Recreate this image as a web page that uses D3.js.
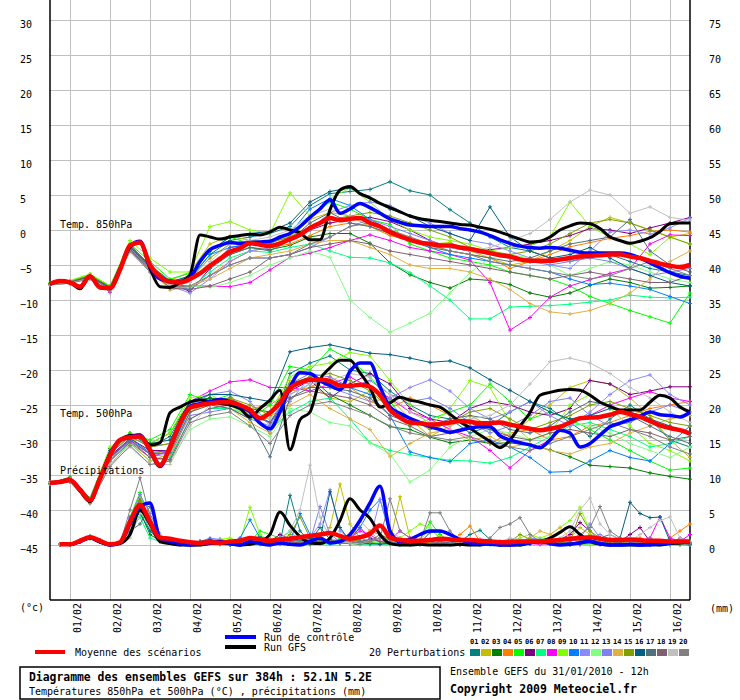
<!DOCTYPE html>
<html>
<head>
<meta charset="utf-8">
<script src="https://cdn.jsdelivr.net/npm/d3@7"></script>
<style>
  body { margin: 0; background: #fff; }
  svg text { font-family: "DejaVu Sans Mono", monospace; font-size: 10px; fill: #000; }
</style>
</head>
<body>
<div id="chart"></div>
<script>
// ---------- data ----------
const dayLabels = ["01/02","02/02","03/02","04/02","05/02","06/02","07/02","08/02",
                   "09/02","10/02","11/02","12/02","13/02","14/02","15/02","16/02"];
const dayHours = d3.range(12, 384, 24);
const leftTicks = d3.range(-45, 31, 5);
const rightTicks = d3.range(0, 76, 5);

const memberNames = ["01","02","03","04","05","06","07","08","09","10",
                     "11","12","13","14","15","16","17","18","19","20"];
const memberColors = ["#008080","#c0c000","#008000","#ff8000","#00ff00","#800080","#00ff80","#ff00ff","#80ff00","#0080ff",
                      "#8a8aff","#80ff80","#8080f0","#e0b040","#80a000","#006080","#507080","#806070","#c0c0c0","#808080"];

// T850 (6h steps)
const t850Mean = [-7.7,-7.3,-7.5,-8.1,-6.6,-8.2,-8.3,-5.7,-2.2,-1.8,
  -5,-6.7,-7.4,-7.5,-7,-6.2,-5.1,-4.1,-3.1,-2.6,
  -1.9,-2.1,-2.3,-1.9,-1.3,-0.7,0.3,1,1.7,1.4,
  1.6,1.7,1,0.5,-0.3,-0.9,-1.4,-1.8,-2,-2.2,
  -2.2,-2.5,-2.7,-3,-3.3,-3.6,-3.8,-4.2,-4.4,-4.4,
  -4.4,-4.2,-4,-3.8,-3.7,-3.6,-3.5,-3.5,-3.8,-4,
  -4.4,-4.8,-5.1,-5.3,-5];
const t850Control = [-7.7,-7.3,-7.5,-8.1,-6.6,-8.2,-8.3,-5.5,-2.3,-1.6,
  -5.2,-7.0,-7.3,-7.4,-6.8,-4.5,-2.8,-2.2,-1.8,-1.9,
  -1.8,-1.7,-1.6,-1.0,-0.5,0.5,1.8,3.0,4.3,2.4,
  3.0,3.8,3.2,2.4,1.6,1.1,0.7,0.6,0.5,0.5,
  0.5,0.2,0,-0.3,-0.8,-1.4,-1.9,-2.3,-2.5,-2.6,
  -2.5,-2.6,-2.9,-3.2,-3.3,-3.3,-3.3,-3.3,-3.5,-4.0,
  -4.7,-5.4,-6.1,-6.6,-6.9];
const t850Gfs = [-7.7,-7.3,-7.5,-8.4,-6.6,-8.2,-8.4,-5.6,-2.5,-1.8,
  -5.5,-8.1,-8.2,-7.5,-6.4,-0.7,-1.0,-1.3,-1.0,-0.8,
  -0.6,-0.7,-0.3,0.4,0,-0.4,-1.4,-1.4,2.9,5.7,
  6.2,5.2,4.6,3.8,3.2,2.6,2.0,1.6,1.4,1.2,
  1.0,0.8,0.7,0.4,0.1,-0.3,-0.8,-1.3,-1.7,-1.6,
  -1.0,0,0.6,1.0,0.9,0.2,-1.0,-1.5,-1.9,-1.6,
  -1.1,-0.2,0.9,1.0,1.0];
// T850 perturbations (12h steps)
const t850Members = [
  [-7.8,-7.4,-6.5,-8.2,-2.0,-5.3,-7.3,-6.8,-3.5,-1.5, -1.0,-0.5,0.5,3.5,5.2,5.5,5.8,6.9,5.6,5.0, 2.9,1.0,-1.0,-2.5,-3.0,-4.0,-4.5,-3.8,-3.5,-4.5, -5.5,-6.0,-6.5],
  [-7.6,-7.4,-6.4,-8.0,-2.4,-5.0,-7.2,-6.0,-2.0,-0.8, -1.5,-1.8,-1.0,1.5,2.5,2.0,0.5,-0.5,-1.5,-2.0, -1.8,-3.0,-4.0,-5.0,-4.5,-3.0,-1.5,0.5,1.8,1.0, 0.0,-1.0,-0.5],
  [-7.7,-7.5,-6.6,-8.3,-2.5,-5.2,-7.6,-7.2,-5.0,-3.5, -2.5,-2.8,-2.2,-1.0,-0.5,-0.5,-1.9,-4.7,-6.4,-7.5, -8.3,-7.0,-7.2,-7.8,-9.0,-9.6,-9.0,-7.9,-7.0,-7.5, -8.3,-8.2,-8.0],
  [-7.8,-7.6,-6.7,-8.4,-2.8,-5.5,-7.8,-8.5,-6.5,-4.5, -3.0,-2.5,-2.0,-0.8,0.5,1.0,0.5,-0.8,-1.5,-2.2, -3.0,-3.5,-4.0,-5.5,-4.5,-3.5,-2.4,-1.8,-1.2,-0.8, -0.2,0.0,-0.3],
  [-7.6,-7.3,-6.3,-8.0,-2.0,-4.5,-7.0,-6.2,-3.0,-1.0, -2.0,-2.5,-1.5,2.0,4.0,3.0,1.5,0.8,-2.0,-3.0, -4.0,-4.5,-5.0,-6.0,-6.5,-7.0,-8.0,-9.5,-10.5,-11.5, -12.4,-13.3,-9.0],
  [-7.7,-7.5,-6.6,-8.2,-2.3,-5.0,-7.5,-8.8,-5.5,-2.5, -2.0,-2.2,-1.5,0.0,1.0,1.5,1.8,1.2,0.0,-1.5, -2.5,-3.0,-2.8,-2.5,-2.0,-1.5,-0.8,0.2,0.0,-0.5, 0.3,1.0,1.8],
  [-7.8,-7.6,-6.8,-8.5,-3.0,-5.5,-8.0,-8.3,-6.0,-4.0, -3.0,-3.2,-2.5,-2.0,-3.0,-3.9,-4.0,-4.7,-6.1,-8.0, -10.0,-12.7,-12.7,-11.0,-10.9,-10.8,-10.6,-10.3,-10.0,-9.3, -9.6,-9.7,-9.6],
  [-7.7,-7.4,-6.6,-8.9,-2.5,-5.3,-7.8,-8.0,-8.0,-8.1, -7.5,-5.7,-3.9,-3.3,-2.5,-1.5,-0.7,-1.5,-2.5,-3.0, -3.5,-4.3,-7.5,-14.3,-12.5,-9.6,-8.0,-7.1,-6.2,-5.5, -2.0,-0.7,-0.8],
  [-7.6,-7.2,-6.3,-8.0,-1.5,-4.0,-6.0,-6.0,0.5,1.2, 0.0,-0.5,5.3,2.0,4.5,6.0,4.0,1.5,0.0,-1.0, -1.5,-2.0,-3.0,-2.5,-2.3,-1.0,4.0,0.5,-1.0,-2.0, -3.5,-1.0,-2.0],
  [-7.8,-7.5,-6.7,-8.3,-2.2,-5.0,-7.3,-7.0,-3.5,-2.5, -2.0,-2.0,-0.5,3.0,4.5,3.5,1.5,0.0,-1.5,-2.5, -3.5,-4.0,-4.5,-5.0,-5.5,-6.0,-7.0,-7.8,-7.6,-8.0, -8.5,-9.5,-10.5],
  [-7.7,-7.4,-6.6,-8.2,-2.3,-5.4,-8.0,-9.0,-7.0,-4.5, -3.0,-2.5,-1.5,0.0,2.5,3.5,4.0,3.5,2.0,1.0, -0.5,-1.5,-2.0,-3.0,-4.0,-5.0,-5.5,-3.0,-0.3,0.0, -0.6,0.3,1.7],
  [-7.7,-7.5,-6.8,-8.4,-2.6,-5.6,-8.2,-8.0,-8.2,-7.5, -6.5,-5.0,-4.0,-3.0,-3.9,-10.0,-12.5,-14.6,-13.3,-11.9, -9.0,-6.1,-4.0,-3.5,-4.0,-5.0,-6.5,-5.5,-4.5,-5.0, -6.0,-7.0,-7.5],
  [-7.8,-7.6,-6.8,-8.3,-2.5,-5.5,-7.9,-8.5,-6.5,-5.0, -4.0,-4.0,-3.5,-2.5,-1.0,0.5,1.5,0.5,-0.5,-1.5, -2.5,-3.0,-3.5,-4.0,-4.5,-5.0,-4.5,-4.0,-4.5,-5.5, -6.5,-6.0,-5.5],
  [-7.8,-7.6,-6.9,-8.4,-3.0,-5.8,-8.6,-8.0,-7.0,-5.5, -4.0,-3.5,-3.0,-2.0,-1.5,-1.5,-2.5,-3.5,-5.0,-5.5, -5.5,-6.0,-7.0,-8.5,-10.5,-11.7,-12.0,-11.5,-10.5,-9.0, -7.0,-4.5,-3.0],
  [-7.7,-7.4,-6.5,-8.1,-2.2,-5.1,-7.5,-7.0,-4.0,-2.0, -1.5,-1.8,-1.0,0.5,1.5,2.0,2.5,2.0,1.0,0.0, -1.0,-2.5,-3.0,-3.5,-3.0,-2.0,-0.5,1.0,1.5,1.0, 0.0,-1.0,-2.0],
  [-7.7,-7.5,-6.6,-8.2,-2.4,-5.2,-7.5,-6.5,-3.0,-1.0, -0.5,-0.2,1.0,4.0,5.5,6.0,4.5,3.0,2.0,0.5, -0.5,-1.5,3.3,-1.0,-3.0,-4.0,-3.5,-2.5,-4.0,-5.5, -6.5,-7.5,-8.0],
  [-7.8,-7.5,-6.7,-8.3,-2.7,-5.5,-7.6,-7.0,-5.5,-3.5, -2.5,-3.0,-1.5,1.0,2.5,1.0,0.5,-0.5,-1.5,-2.5, -3.0,-3.5,-4.0,-4.5,-4.0,-3.0,-2.0,-1.5,-1.0,1.5, -3.0,-5.0,-6.0],
  [-7.7,-7.5,-6.8,-8.5,-2.8,-5.8,-8.3,-8.5,-8.0,-7.0, -6.0,-4.0,-3.5,-2.5,-2.0,-1.5,-2.0,-3.0,-3.5,-4.0, -4.5,-5.0,-5.5,-6.0,-6.5,-7.0,-6.5,-6.0,-6.5,-7.0, -7.5,-7.5,-6.5],
  [-7.8,-7.6,-6.9,-8.6,-3.2,-6.0,-7.8,-7.5,-4.5,-2.0, -1.5,-1.0,0.0,2.0,3.0,2.0,1.0,0.0,-1.0,-2.0, -2.5,-3.0,-2.5,-1.5,-0.5,1.5,4.0,5.7,5.0,2.4, 3.3,1.8,1.4],
  [-7.8,-7.6,-7.0,-8.7,-3.0,-6.0,-8.2,-8.0,-6.5,-5.0, -4.0,-4.0,-3.5,-2.0,-1.0,0.5,1.0,0.0,-1.0,-2.0, -3.0,-3.5,-4.5,-5.0,-5.5,-6.0,-6.5,-7.0,-6.5,-5.5, -4.5,-5.5,-6.5]
];

// T500 (6h steps)
const t500Mean = [-36.1,-36,-35.7,-37.1,-38.6,-35.5,-32.2,-30,-29.6,-29.5,
  -31.4,-33.6,-31,-27.6,-25.4,-25,-24.8,-24.6,-24.6,-25,
  -25.7,-26.9,-26.1,-24.7,-22.6,-21.8,-21.4,-21.4,-21.6,-22.2,
  -22.3,-22.1,-22.4,-23.6,-25.7,-26.8,-27.5,-27.6,-27.8,-27.7,
  -27.5,-27.3,-27.4,-27.6,-27.6,-27.5,-27.8,-28.1,-28.4,-28.6,
  -28.4,-28.1,-27.5,-26.9,-26.8,-26.7,-26.4,-26,-26.3,-26.7,
  -27.3,-27.9,-28.3,-28.6,-29.1];
const t500Control = [-36.1,-36,-35.7,-37.1,-38.6,-35.5,-32,-30,-29.6,-29.3,
  -31.5,-33.8,-31,-27.5,-25.2,-24.8,-24.5,-24.2,-24.5,-25.2,
  -26,-27.6,-28.4,-26,-22.5,-20.4,-20.5,-21.5,-22.2,-22.8,
  -20.2,-19,-19,-22.4,-25.3,-26.2,-26.9,-27.5,-28.1,-28.5,
  -28.9,-28.6,-28.3,-28.1,-28.1,-29.4,-30,-30.4,-30.7,-31.1,
  -30,-28.6,-29,-31,-30.5,-29.3,-28.1,-27.6,-27.1,-26.6,
  -26,-26.4,-26.5,-26.7,-26];
const t500Gfs = [-36.1,-36,-35.7,-37.3,-38.8,-35.5,-32.2,-30,-29.4,-29.3,
  -30.7,-30.4,-26.1,-25.3,-24.6,-24.3,-24.5,-24.8,-25,-25.5,
  -26.7,-25.5,-24.3,-22.9,-31.4,-27.1,-26,-21.4,-19.7,-18.6,
  -18.6,-20.4,-22.5,-25.3,-24.7,-23.9,-24.3,-24.6,-25,-25.3,
  -26.3,-27.4,-28.3,-29.3,-30.2,-31.1,-30,-28,-26.1,-23.6,
  -23.2,-22.9,-22.8,-22.9,-23.6,-24.6,-25.2,-25.7,-25.7,-25.7,
  -24.6,-23.6,-24,-25.3,-26];
// T500 perturbations (12h steps)
const t500Members = [
  [-36.2,-35.8,-38.5,-31.5,-29.0,-31.0,-29.5,-24.5,-24.0,-24.5, -26.0,-29.0,-20.5,-19.0,-18.0,-20.0,-20.5,-23.0,-25.0,-26.5, -27.0,-29.0,-28.0,-26.0,-24.5,-25.5,-27.5,-29.5,-27.0,-25.0, -27.0,-30.0,-31.0],
  [-36.0,-35.6,-38.7,-32.0,-29.5,-32.0,-31.5,-25.5,-24.5,-24.0, -26.5,-27.0,-21.5,-22.0,-24.0,-24.5,-23.0,-24.0,-27.0,-29.5, -28.0,-26.5,-28.0,-29.5,-27.0,-25.0,-22.5,-21.5,-22.0,-24.0, -26.5,-30.0,-32.5],
  [-36.2,-35.3,-38.3,-31.2,-29.0,-30.5,-29.0,-24.5,-24.0,-24.5, -25.5,-26.0,-22.0,-21.0,-23.5,-25.0,-26.5,-28.1,-28.5,-29.6, -30.4,-30.0,-30.5,-30.4,-30.8,-31.4,-32.4,-33.6,-33.8,-34.0, -34.7,-35.2,-35.6],
  [-36.1,-35.8,-38.8,-32.5,-30.0,-32.0,-32.5,-26.0,-24.5,-25.0, -25.5,-25.0,-23.0,-22.5,-21.0,-22.5,-24.5,-25.5,-24.0,-25.0, -26.5,-28.0,-30.5,-29.0,-28.5,-30.0,-29.5,-28.0,-27.5,-26.5, -25.5,-25.0,-24.5],
  [-36.0,-35.5,-38.6,-32.0,-29.0,-30.0,-28.5,-23.5,-24.5,-23.5, -27.0,-25.0,-19.5,-20.0,-17.0,-18.5,-21.0,-24.5,-28.0,-27.0, -26.0,-25.0,-22.0,-24.5,-27.0,-26.0,-27.0,-28.5,-30.0,-31.5, -33.0,-34.3,-34.0],
  [-36.1,-35.7,-38.6,-32.3,-29.8,-31.5,-31.5,-25.0,-24.5,-25.0, -26.0,-27.5,-23.0,-21.5,-24.0,-22.0,-20.5,-22.0,-25.5,-27.0, -27.5,-25.5,-24.5,-25.0,-26.0,-26.5,-25.5,-21.5,-22.0,-23.5, -23.0,-22.4,-22.4],
  [-36.3,-35.9,-38.9,-33.0,-30.5,-33.0,-32.5,-27.0,-25.5,-25.5, -26.5,-28.5,-26.0,-24.5,-24.0,-27.0,-30.4,-31.5,-32.1,-32.5, -32.9,-33.0,-33.3,-32.5,-31.0,-29.5,-28.0,-27.5,-28.5,-29.5, -31.0,-30.5,-29.5],
  [-36.1,-35.7,-38.7,-32.5,-30.0,-32.5,-31.5,-24.5,-23.0,-21.7, -21.4,-22.5,-22.5,-23.0,-22.0,-21.0,-22.5,-24.0,-26.0,-27.0, -28.5,-29.5,-31.5,-34.0,-31.5,-30.0,-27.5,-26.5,-25.0,-24.0, -23.1,-24.0,-24.5],
  [-36.0,-35.6,-38.4,-31.0,-29.0,-30.5,-29.0,-24.0,-23.5,-25.0, -27.0,-26.0,-21.0,-19.5,-19.0,-17.5,-18.0,-21.5,-25.0,-28.0, -25.5,-21.5,-22.5,-27.5,-30.0,-29.0,-25.0,-23.5,-25.5,-28.0, -30.5,-31.5,-33.0],
  [-36.2,-35.8,-38.7,-32.5,-29.8,-31.8,-31.5,-25.5,-24.5,-24.0, -26.0,-27.5,-23.5,-22.0,-21.5,-22.5,-23.5,-26.5,-31.7,-32.5, -33.1,-30.5,-30.0,-31.0,-32.5,-34.6,-34.5,-33.0,-31.5,-32.5, -33.0,-30.5,-28.0],
  [-36.1,-35.7,-38.6,-32.0,-29.5,-31.0,-30.5,-25.0,-23.5,-23.0, -24.5,-28.0,-24.5,-21.0,-22.5,-23.5,-24.5,-24.0,-22.5,-21.4, -23.0,-25.5,-27.0,-26.0,-24.5,-26.5,-28.0,-26.0,-23.5,-21.5, -20.7,-23.5,-25.0],
  [-36.2,-35.9,-38.9,-33.0,-30.5,-32.5,-33.0,-28.5,-27.0,-26.7, -28.0,-29.5,-25.5,-26.0,-27.5,-28.0,-30.4,-32.0,-36.0,-34.3, -31.0,-29.5,-28.5,-29.0,-30.0,-29.5,-27.5,-28.0,-29.0,-30.5, -31.5,-32.5,-31.0],
  [-36.1,-35.8,-38.8,-32.8,-30.2,-32.0,-32.0,-26.5,-26.0,-25.5, -27.0,-28.0,-22.0,-20.5,-21.0,-22.5,-21.5,-23.5,-24.5,-24.0, -25.5,-27.5,-29.0,-28.0,-26.5,-24.5,-24.0,-26.5,-28.0,-27.5, -26.0,-25.0,-26.0],
  [-36.2,-36.0,-39.0,-33.5,-30.5,-33.0,-32.0,-26.0,-25.0,-25.5, -27.5,-29.0,-25.0,-23.5,-25.5,-27.0,-28.5,-32.4,-30.5,-29.0, -28.5,-30.0,-29.5,-31.0,-30.5,-31.5,-32.0,-31.0,-30.5,-29.0, -28.0,-27.0,-26.5],
  [-36.0,-35.6,-38.5,-31.8,-29.5,-31.0,-30.5,-25.0,-24.5,-24.0, -25.0,-26.5,-22.5,-21.0,-20.5,-21.5,-23.0,-25.5,-27.0,-28.5, -27.5,-26.0,-25.5,-27.0,-28.5,-27.5,-26.5,-25.0,-24.5,-25.5, -26.5,-27.5,-28.0],
  [-36.1,-35.7,-38.5,-31.5,-29.2,-30.5,-30.0,-24.5,-23.5,-23.5, -24.0,-24.5,-17.4,-16.8,-16.4,-17.0,-17.6,-17.8,-18.3,-18.9, -18.7,-19.7,-21.4,-22.9,-24.5,-26.0,-27.0,-26.5,-25.5,-26.0, -27.0,-28.0,-29.0],
  [-36.1,-35.8,-38.7,-32.6,-30.0,-32.0,-31.8,-26.0,-25.0,-25.5, -27.0,-32.4,-24.0,-22.5,-22.5,-23.0,-24.0,-26.5,-27.5,-28.0, -27.0,-26.5,-27.0,-28.5,-29.0,-28.0,-26.0,-24.5,-25.0,-26.5, -28.0,-29.5,-30.5],
  [-36.2,-35.9,-38.8,-33.0,-30.3,-32.5,-32.8,-27.0,-25.5,-25.0, -26.5,-27.5,-24.0,-23.0,-23.5,-24.0,-25.0,-27.0,-28.0,-29.5, -29.0,-28.0,-28.5,-29.5,-30.0,-29.0,-28.5,-29.0,-29.5,-28.5, -29.0,-30.0,-29.5],
  [-36.1,-35.7,-38.4,-33.5,-31.0,-33.5,-33.5,-28.0,-25.0,-24.5, -26.0,-27.0,-23.5,-22.0,-21.5,-20.5,-21.0,-23.5,-26.0,-27.5, -28.0,-27.0,-26.5,-25.0,-22.0,-18.8,-18.3,-19.0,-20.5,-22.5, -24.0,-26.0,-27.5],
  [-36.3,-36.0,-39.1,-33.8,-30.8,-33.5,-33.0,-27.5,-26.5,-26.0, -28.0,-30.5,-26.5,-25.0,-24.5,-25.5,-26.5,-28.0,-29.0,-29.5, -30.0,-29.5,-30.5,-31.0,-31.5,-30.5,-29.5,-28.5,-27.5,-28.5, -29.5,-31.0,-32.0]
];

// Precipitation, mm (6h steps, first step has no value)
const rainMean = [null,0.1,0.1,0.6,1.1,0.6,0.1,0.4,3.3,5.7,
  3.3,1.0,0.9,0.6,0.4,0.3,0.4,0.3,0.5,0.6,
  1.0,0.8,0.6,0.8,0.9,1.1,1.3,1.5,1.7,1.3,
  0.9,1.1,1.6,2.8,1.1,0.7,0.6,0.6,0.7,0.9,
  0.8,0.7,0.7,0.6,0.5,0.4,0.4,0.5,0.5,0.5,
  0.6,0.7,0.9,1.0,1.1,0.9,0.7,0.7,0.8,0.7,
  0.6,0.6,0.5,0.5,0.5];
const rainControl = [null,0.1,0.1,0.5,1.0,0.5,0,0.3,3.0,5.5,
  6.0,1.0,0.5,0.2,0,0.1,0.3,0.5,0.2,0,
  0.5,0.2,0,0.3,0.1,0,0.5,1.0,0.3,0.5,
  1.5,3.5,6.0,8.4,2.0,0.5,0.8,1.5,2.0,2.0,
  1.5,0.8,0.3,0.2,0.1,0,0,0.1,0.3,0.5,
  0.2,0,0.1,0.3,0.5,0.2,0,0,0.1,0,
  0,0.2,0.3,0.5,0.4];
const rainGfs = [null,0.1,0.1,0.5,1.0,0.4,0,0.2,1.5,5.0,
  3.0,0.5,0.2,0,0,0,0.2,0.3,0.2,0,
  0.1,0.5,1.5,4.7,2.8,1.2,0.3,0.2,1.0,3.5,
  6.6,5.0,3.8,1.5,0.2,0,0,0.1,0,0,
  0,0.1,0,0,0.2,0,0,0,0.3,0.5,
  1.0,1.8,2.6,1.5,0.5,0.1,0,0,0,0,
  0.1,0,0.2,0.3,0.5];
const rainMembers = [
  [null,0.1,0.1,0.6,1.1,0.5,0.1,0.4,2.5,6.0, 3.0,1.0,0.5,0.2,0.1,0.3,0.6,0.8,0.4,0.1, 0.5,1.2,0.8,0.3,7.1,2.0,0.5,2.5,0.8,0.3, 0.5,0.2,0.1,0.3,0.5,0.2,0.1,0.2,0.5,0.3, 0.2,0.5,1.5,2.1,0.8,0.2,0.1,0,0.2,0.5, 0.3,0.1,0.2,0.5,0.3,0.1,0.8,0.5,0.2,0.1, 0.3,0.2,0.1,0.2,0.3],
  [null,0.1,0.1,0.6,1.2,0.6,0.1,0.3,3.0,6.5, 2.5,0.8,0.4,0.1,0,0.2,0.3,0.2,0.1,0, 0.3,0.2,0.1,0.5,1.0,0.3,0.5,1.0,2.5,8.7, 3.0,1.0,0.5,0.3,0.5,6.9,1.0,0.3,0.2,0.1, 0.3,0.5,0.2,0.1,0.3,0.2,0.1,0.2,0.3,0.1, 0.2,0.5,1.0,2.5,1.5,0.5,0.2,0.1,0.3,0.5, 0.3,0.2,0.1,0.2,0.2],
  [null,0.1,0.1,0.7,1.3,0.7,0.1,0.3,2.8,4.8, 1.5,0.6,0.3,0.1,0,0.1,0.2,0.1,0,0, 0.2,0.1,0.3,0.5,0.3,0.2,0.1,0.4,0.6,0.3, 0.2,0.1,0.3,0.2,0.1,0,0,0.1,0.2,0.1, 0.1,0,0.1,0.2,0.1,0,0,0.1,0.2,0.3, 0.2,0.1,0,0.1,0.2,0.1,0,0.1,0.2,0.1, 0,0.1,0.2,0.1,0],
  [null,0.1,0.1,0.5,1.0,0.5,0.1,0.3,3.5,6.5, 4.0,1.2,0.5,0.2,0.1,0.1,0.3,0.5,0.2,0.1, 0.2,0.3,0.5,0.8,0.4,0.2,0.3,0.5,0.3,0.2, 0.5,1.0,2.0,1.5,0.8,0.3,0.2,0.1,0.2,0.3, 0.4,1.5,2.7,0.5,0.2,0.3,0.2,0.1,0.2,0.3, 0.5,0.4,0.3,0.2,0.1,0.2,0.3,0.2,0.5,1.0, 0.5,0.3,1.0,2.0,3.0],
  [null,0.1,0.1,0.5,0.9,0.5,0.1,0.4,4.0,7.5, 2.5,1.0,0.5,0.3,0.2,0.5,0.8,0.5,0.3,0.2, 0.5,2.0,1.5,1.0,0.5,0.3,0.5,0.3,0.2,1.0, 1.5,0.5,0.3,1.0,0.8,0.5,0.3,0.8,3.3,1.5, 0.5,0.3,0.2,0.1,0.2,0.3,0.1,0.2,0.5,0.8, 1.0,0.5,0.3,0.2,0.1,0.2,0.5,0.3,0.2,0.1, 0.2,0.3,0.1,0.2,0.3],
  [null,0.1,0.1,0.5,1.0,0.6,0.1,0.3,3.2,6.8, 3.5,0.8,0.4,0.2,0.1,0.2,0.3,0.2,0.1,0.1, 0.2,0.3,0.5,1.5,0.8,0.5,0.3,0.6,0.4,0.5, 0.8,2.5,1.0,0.5,0.2,0.1,0.2,0.3,0.2,0.1, 0.2,0.1,0.2,0.3,0.5,0.3,0.2,0.1,0.2,0.3, 0.5,0.8,1.5,3.2,2.0,0.5,0.3,0.5,1.5,2.5, 0.5,0.3,0.2,1.0,0.5],
  [null,0.1,0.1,0.6,1.0,0.5,0.1,0.3,2.0,4.0, 1.0,0.5,0.3,0.2,0.1,0.1,0.2,0.1,0.1,0, 0.1,0.2,0.5,0.8,2.0,0.5,0.3,0.2,0.1,0.2, 0.3,0.2,0.1,0.2,0.1,0,0.1,0.2,0.3,0.1, 0.1,0.2,0.3,0.2,0.1,0,0,0.1,0.2,0.3, 0.2,0.1,0.5,1.0,0.5,0.2,0.1,0.2,0.1,0.2, 0.1,0.2,0.1,0,0.1],
  [null,0.1,0.1,0.5,1.0,0.5,0.1,0.3,3.0,6.0, 3.0,1.0,0.5,0.3,0.1,0.3,0.5,0.2,0.1,0, 0.2,0.5,0.3,0.2,0.5,1.0,0.5,0.3,0.2,0.5, 1.0,2.0,1.5,0.5,0.8,2.0,1.0,0.5,0.3,0.2, 0.1,0.2,0.5,0.3,0.2,0.1,0.2,0.3,0.2,0.1, 0.2,0.3,0.2,0.1,0.5,1.0,0.5,0.3,0.2,0.5, 1.0,4.0,1.0,0.5,1.5],
  [null,0.1,0.1,0.5,1.0,0.6,0.1,0.3,3.5,7.0, 3.0,1.2,0.8,0.5,0.3,0.2,0.5,0.8,1.0,0.5, 5.4,1.5,0.5,0.3,0.2,0.5,1.0,0.5,0.3,0.4, 0.5,0.3,0.2,0.5,0.3,1.0,2.0,3.0,2.5,1.0, 0.5,0.3,0.2,0.1,0.3,0.2,0.5,1.0,1.5,1.0, 1.5,2.5,3.5,5.4,2.0,0.5,0.5,0.3,0.2,0.1, 0.2,0.3,0.2,0.1,0.2],
  [null,0.1,0.1,0.5,1.0,0.5,0.1,0.3,4.0,5.5, 2.0,0.5,0.3,0.1,0.2,0.5,0.8,0.5,0.3,1.0, 3.6,1.0,0.5,0.3,0.5,4.5,1.5,0.8,0.5,0.3, 1.0,2.5,5.0,6.5,1.5,0.5,0.3,0.2,0.5,0.8, 0.5,0.3,0.2,0.1,0.2,0.1,0.2,0.3,0.5,0.3, 0.2,0.5,0.8,0.5,0.3,0.2,0.1,0.2,0.1,0.2, 0.3,0.2,0.1,0.2,0.1],
  [null,0.1,0.1,0.5,1.0,0.6,0.1,0.3,3.0,6.0, 3.5,1.0,0.8,0.5,0.3,0.5,1.0,0.8,0.5,0.3, 0.5,0.3,0.5,1.0,0.8,0.5,1.0,3.0,7.9,2.0, 1.0,0.5,0.8,6.5,2.0,0.5,0.3,0.2,0.3,0.5, 0.3,0.2,0.5,0.8,0.5,0.3,0.2,0.5,1.0,0.8, 0.5,0.3,0.2,0.5,1.0,1.5,0.8,0.5,0.3,0.2, 0.5,0.3,0.2,0.5,0.3],
  [null,0.1,0.1,0.5,0.9,0.5,0.1,0.3,2.5,5.0, 2.0,0.6,0.3,0.2,0.1,0,0.1,0.2,0.1,0, 0.2,0.3,0.2,0.1,0.3,0.5,0.2,0.1,0.3,0.5, 0.3,0.2,0.5,0.3,0.2,0.1,0.2,0.5,2.5,0.8, 0.5,0.3,0.2,0.1,0,0.1,0.2,0.1,0.3,0.5, 0.8,0.5,0.3,0.2,0.1,0.3,0.5,0.2,0.1,0.2, 0.1,0.2,0.3,0.2,0.1],
  [null,0.1,0.1,0.6,1.1,0.6,0.1,0.3,3.8,7.2, 4.5,1.5,0.5,0.3,0.2,0.3,0.5,0.3,0.2,0.1, 0.3,0.5,0.8,0.3,0.5,1.0,0.5,5.5,1.5,0.5, 0.3,0.2,0.5,1.0,0.5,0.3,0.2,0.1,0.3,0.5, 0.3,0.2,0.1,0.2,0.3,0.2,0.1,0.5,1.0,0.5, 0.3,0.2,0.5,1.0,3.0,1.0,0.5,0.3,0.2,0.5, 1.0,0.5,0.3,0.2,0.3],
  [null,0.1,0.1,0.6,1.0,0.5,0.1,0.3,3.0,5.5, 2.5,0.8,0.5,0.2,0.1,0.3,0.5,0.3,0.2,0.1, 0.2,0.3,0.5,0.3,0.2,0.5,1.0,0.8,0.5,0.3, 0.5,3.5,2.0,0.5,0.3,0.2,0.1,0.3,0.2,0.1, 0.2,0.3,0.5,0.3,0.2,0.1,0.2,0.5,1.0,2.0, 1.5,2.5,1.0,0.5,0.3,0.2,0.3,0.5,0.3,0.2, 0.3,0.5,0.2,0.1,0.2],
  [null,0.1,0.1,0.5,1.0,0.5,0.1,0.3,3.3,6.3, 3.0,1.0,0.5,0.3,0.1,0.2,0.5,0.3,0.2,0.1, 0.5,0.3,0.2,0.5,1.5,4.0,1.0,0.5,0.3,0.5, 0.8,0.5,0.3,0.2,0.5,1.0,0.8,0.5,0.3,0.2, 0.1,0.2,0.3,0.5,0.3,0.2,0.5,1.5,0.8,0.3, 0.2,0.3,0.5,4.5,2.0,1.0,0.5,0.3,0.2,0.3, 0.5,0.3,0.2,0.3,0.5],
  [null,0.1,0.1,0.5,1.0,0.6,0.1,0.3,3.5,4.5, 2.0,0.8,0.3,0.2,0.1,0.5,0.8,0.3,0.1,0, 0.2,0.5,0.3,0.2,1.0,0.5,1.0,0.8,7.6,2.5, 0.5,0.3,0.2,0.1,0.3,0.2,0.5,0.3,1.8,1.9, 1.5,0.5,0.2,0.1,0.3,0.2,0.1,0.2,0.5,0.3, 0.2,0.1,0.3,0.5,0.8,0.3,0.5,1.0,6.1,4.5, 3.9,4.0,0.5,0.2,0.1],
  [null,0.1,0.1,0.6,1.1,0.6,0.1,0.3,2.0,3.0, 5.5,1.5,0.5,0.3,0.2,0.3,0.5,0.3,0.2,0.1, 0.3,0.5,0.3,0.2,0.5,0.3,0.2,0.5,0.8,0.5, 0.3,0.5,0.8,0.5,0.3,0.2,0.3,0.5,0.8,0.5, 0.3,0.5,0.2,0.1,0.3,0.5,0.8,0.5,0.3,0.2, 0.3,0.5,0.3,0.2,0.5,0.8,0.5,0.3,0.2,0.1, 0.2,0.3,0.5,0.3,0.2],
  [null,0.1,0.1,0.5,1.0,0.5,0.1,0.3,3.0,5.0, 3.0,1.0,0.5,0.2,0.1,0.2,0.3,0.2,0.1,0.1, 0.2,0.3,0.2,0.3,0.5,0.3,0.2,0.3,0.5,0.3, 0.2,0.3,0.5,1.5,0.8,0.3,0.2,0.1,0.2,0.3, 0.2,0.1,0.2,0.3,0.2,0.1,0.2,0.3,0.5,0.3, 0.2,0.3,0.2,0.1,0.5,1.0,1.5,0.8,0.5,0.3, 0.2,0.3,0.5,0.3,0.2],
  [null,0.1,0.1,0.7,1.3,0.7,0.1,0.2,1.0,4.5, 3.5,1.5,0.3,0.2,0.1,0.2,0.3,0.5,0.3,0.2, 0.3,0.5,0.8,1.0,2.0,5.0,11.4,4.0,1.0,0.5, 0.3,0.2,0.5,1.0,2.0,1.0,0.5,0.3,0.2,0.1, 0.2,0.3,0.5,0.3,0.2,0.5,1.0,0.8,0.5,0.3, 0.5,1.0,2.0,5.0,6.7,3.0,1.5,0.8,0.5,1.5, 2.5,3.5,4.0,1.0,0.5],
  [null,0.1,0.1,0.6,1.2,0.6,0.1,0.2,5.0,9.6, 4.0,1.0,0.5,0.2,0.1,0.2,0.3,0.2,0.1,0.2, 0.5,0.3,0.5,1.0,0.8,0.5,0.3,0.2,0.5,0.8, 0.5,0.3,0.5,1.0,6.6,2.0,1.0,0.5,4.6,4.6, 2.0,0.5,0.3,0.2,1.0,2.5,3.0,3.9,1.5,0.5, 0.3,0.5,0.8,1.5,2.5,5.5,2.0,1.0,0.5,0.3, 0.5,0.3,0.2,0.1,0.2]
];

// ---------- chart ----------
const W = 740, H = 700;
const svg = d3.select("#chart").append("svg").attr("width", W).attr("height", H);
svg.append("rect").attr("width", W).attr("height", H).attr("fill", "#fff");

const x = d3.scaleLinear().domain([0, 384]).range([50, 690]);
const yT = d3.scaleLinear().domain([-45, 30]).range([545, 20]);   // temperatures, left axis
const yP = d3.scaleLinear().domain([0, 75]).range([545, 20]);     // precipitation, right axis

// grid
const gridY = svg.append("g").attr("transform", "translate(50,0)")
  .call(d3.axisLeft(yT).tickValues(leftTicks).tickSize(-640).tickFormat(""));
gridY.select(".domain").remove();
gridY.selectAll("line").attr("stroke", "#c0c0c0");

const gridX = svg.append("g").attr("transform", "translate(0,600)")
  .call(d3.axisBottom(x).tickValues(dayHours).tickSize(-600).tickFormat((d, i) => dayLabels[i]));
gridX.select(".domain").remove();
gridX.selectAll("line").attr("stroke", "#c0c0c0");
gridX.selectAll("text")
  .attr("transform", "rotate(-90)")
  .attr("x", -3).attr("y", 10).attr("dy", 0)
  .attr("text-anchor", "end");

// axis labels
const axL = svg.append("g").attr("transform", "translate(50,0)")
  .call(d3.axisLeft(yT).tickValues(leftTicks).tickSize(0));
axL.select(".domain").remove();
axL.selectAll("text").attr("x", -30).attr("text-anchor", "start").attr("dy", "0.72em");

const axR = svg.append("g").attr("transform", "translate(690,0)")
  .call(d3.axisRight(yP).tickValues(rightTicks).tickSize(0));
axR.select(".domain").remove();
axR.selectAll("text").attr("x", 19).attr("text-anchor", "start").attr("dy", "0.72em");

// frame
const frame = svg.append("g").attr("stroke", "#000").attr("stroke-width", 1.5);
frame.append("line").attr("x1", 50).attr("x2", 50).attr("y1", 0).attr("y2", 600);
frame.append("line").attr("x1", 690).attr("x2", 690).attr("y1", 0).attr("y2", 600);
frame.append("line").attr("x1", 50).attr("x2", 690).attr("y1", 600).attr("y2", 600);

svg.append("text").attr("x", 20).attr("y", 611).text("(°c)");
svg.append("text").attr("x", 710).attr("y", 612).text("(mm)");

// series helpers
function toPoints(arr, step) {
  return arr.slice(0, 384 / step + 1).map((v, i) => ({ h: i * step, v: v }));
}
function drawSeries(g, arr, step, yScale, color, width, curve, marks) {
  const pts = toPoints(arr, step);
  const line = d3.line()
    .defined(d => d.v != null)
    .x(d => x(d.h))
    .y(d => yScale(d.v))
    .curve(curve || d3.curveLinear);
  g.append("path").datum(pts)
    .attr("d", line)
    .attr("fill", "none")
    .attr("stroke", color)
    .attr("stroke-width", width)
    .attr("stroke-linejoin", "round");
  if (marks) {
    g.append("path")
      .attr("d", pts.filter(d => d.v != null)
        .map(d => `M${x(d.h) - 2},${yScale(d.v)}h4M${x(d.h)},${yScale(d.v) - 2}v4`).join(""))
      .attr("stroke", color).attr("stroke-width", 1).attr("fill", "none");
  }
}

const plot = svg.append("g");

// perturbations
memberColors.forEach((c, i) => {
  drawSeries(plot, t850Members[i], 12, yT, c, 1, null, true);
  drawSeries(plot, t500Members[i], 12, yT, c, 1, null, true);
  drawSeries(plot, rainMembers[i], 6, yP, c, 1, null, true);
});

// GFS, control, mean
[[t850Gfs, yT], [t500Gfs, yT], [rainGfs, yP]].forEach(s =>
  drawSeries(plot, s[0], 6, s[1], "#000", 3, d3.curveMonotoneX, false));
[[t850Control, yT], [t500Control, yT], [rainControl, yP]].forEach(s =>
  drawSeries(plot, s[0], 6, s[1], "#0000ff", 3.5, d3.curveMonotoneX, false));
[[t850Mean, yT], [t500Mean, yT], [rainMean, yP]].forEach(s =>
  drawSeries(plot, s[0], 6, s[1], "#ff0000", 4.5, d3.curveMonotoneX, false));

// section labels
svg.append("text").attr("x", 60).attr("y", 228).text("Temp. 850hPa");
svg.append("text").attr("x", 60).attr("y", 417).text("Temp. 500hPa");
svg.append("text").attr("x", 60).attr("y", 474).text("Précipitations");

// legend
const lg = svg.append("g");
lg.append("line").attr("x1", 35).attr("x2", 65).attr("y1", 652).attr("y2", 652)
  .attr("stroke", "#ff0000").attr("stroke-width", 4);
lg.append("text").attr("x", 75).attr("y", 656).text("Moyenne des scénarios");
lg.append("line").attr("x1", 225).attr("x2", 256).attr("y1", 637).attr("y2", 637)
  .attr("stroke", "#0000ff").attr("stroke-width", 4);
lg.append("text").attr("x", 264).attr("y", 641).text("Run de contrôle");
lg.append("line").attr("x1", 225).attr("x2", 256).attr("y1", 647).attr("y2", 647)
  .attr("stroke", "#000").attr("stroke-width", 4);
lg.append("text").attr("x", 264).attr("y", 651).text("Run GFS");
lg.append("text").attr("x", 369).attr("y", 656).text("20 Perturbations");

const boxes = lg.selectAll("g.member").data(memberNames).join("g").attr("class", "member")
  .attr("transform", (d, i) => `translate(${470 + i * 11},0)`);
boxes.append("rect").attr("y", 649).attr("width", 10).attr("height", 7)
  .attr("fill", (d, i) => memberColors[i]);
boxes.append("text").attr("y", 644).attr("x", 0)
  .style("font-size", "7px").style("font-weight", "bold").text(d => d);

// title box
svg.append("rect").attr("x", 20).attr("y", 667).attr("width", 420).attr("height", 32)
  .attr("fill", "none").attr("stroke", "#000").attr("stroke-width", 1.5);
svg.append("text").attr("x", 29).attr("y", 681)
  .style("font-size", "11.4px").style("font-weight", "bold")
  .text("Diagramme des ensembles GEFS sur 384h : 52.1N 5.2E");
svg.append("text").attr("x", 29).attr("y", 695)
  .text("Températures 850hPa et 500hPa (°C) , précipitations (mm)");
svg.append("text").attr("x", 450).attr("y", 675).text("Ensemble GEFS du 31/01/2010 - 12h");
svg.append("text").attr("x", 450).attr("y", 693)
  .style("font-size", "11.5px").style("font-weight", "bold")
  .text("Copyright 2009 Meteociel.fr");
</script>
</body>
</html>
